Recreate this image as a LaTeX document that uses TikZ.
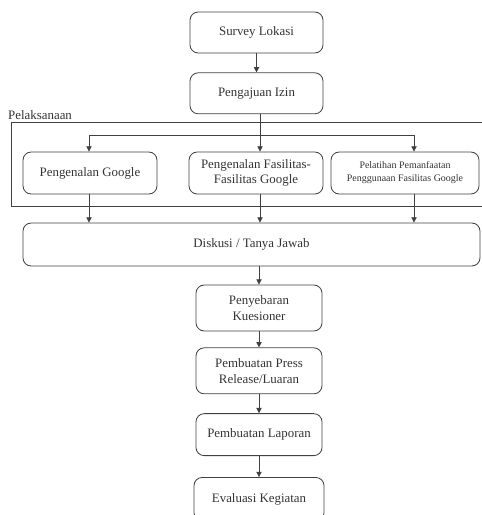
\documentclass[tikz,border=0pt]{standalone}
\usepackage{fontspec}
\setmainfont{Liberation Serif}
\usepackage{xcolor}
\colorlet{LINECOLOR}{black!75}
\colorlet{TEXTCOLOR}{black!80}
\usetikzlibrary{arrows.meta,positioning,calc}
\tikzset{
  step-style/.style = {
    rectangle, rounded corners=7pt, draw=LINECOLOR, line width=0.7pt,
    text=TEXTCOLOR, align=center, inner sep=2pt,
    font=\fontsize{11}{13.5}\selectfont,
    minimum width=3.99cm,
    minimum height=#1
  },
  step-style/.default = 1.23cm,
  small-style/.style = {
    font=\fontsize{8.5}{11}\selectfont
  },
  frame-style/.style = {
    draw=LINECOLOR, line width=0.7pt
  },
  label-style/.style = {
    text=TEXTCOLOR, inner sep=0pt, anchor=south west,
    font=\fontsize{11}{13}\selectfont
  },
  every edge/.style = {draw=LINECOLOR, line width=0.7pt, -{Triangle[length=4.5pt,width=4.5pt]}}
}

\begin{document}
\begin{tikzpicture}[x=0.03cm,y=-0.03cm]
    \useasboundingbox (0,0) rectangle (481,515);

    %%% preparation
    \node[step-style] (survey) at (256.5,32.5) {Survey Lokasi};
    \node[step-style,below=0.57cm of survey] (izin) {Pengajuan Izin};

    %%% pelaksanaan
    \draw[frame-style] (11,122) rectangle (484,206);
    \node[label-style] (pelaksanaan) at (8,119.5) {Pelaksanaan};
    \node[step-style=1.26cm,minimum width=4.02cm] (google) at (90,173) {Pengenalan Google};
    \node[step-style=1.26cm,minimum width=4.02cm] (fasilitas) at (256,173) {Pengenalan Fasilitas-\\Fasilitas Google};
    \node[step-style=1.26cm,minimum width=4.44cm,small-style] (pelatihan) at (405,173) {Pelatihan Pemanfaatan\\Penggunaan Fasilitas Google};

    %%% diskusi
    \node[step-style=1.29cm,minimum width=13.71cm] (diskusi) at (251.5,244.5) {Diskusi / Tanya Jawab};

    %%% lower column
    \node[step-style=1.38cm,minimum width=3.78cm] (kuesioner) at (259,308) {Penyebaran\\Kuesioner};
    \node[step-style=1.38cm,minimum width=3.78cm,below=0.48cm of kuesioner] (press) {Pembuatan Press\\Release/Luaran};
    \node[step-style=1.26cm,minimum width=3.78cm,below=0.57cm of press] (laporan) {Pembuatan Laporan};
    \node[step-style=1.3cm,minimum width=3.9cm,below=0.63cm of laporan] (evaluasi) {Evaluasi Kegiatan};

    %%% branch points
    \coordinate (bGoogle) at (89,135);
    \coordinate (bFasilitas) at (260,135);
    \coordinate (bPelatihan) at (414,135);

    %%% arrows
    \path[->] (survey) edge (izin);
    \path[->] (izin.south -| bFasilitas) edge (bFasilitas |- fasilitas.north);
    \draw[frame-style] (bGoogle) -- (bPelatihan);
    \path[->] (bGoogle) edge (bGoogle |- google.north);
    \path[->] (bPelatihan) edge (bPelatihan |- pelatihan.north);
    \path[->] (google.south -| bGoogle) edge (bGoogle |- diskusi.north);
    \path[->] (fasilitas.south -| bFasilitas) edge (bFasilitas |- diskusi.north);
    \path[->] (pelatihan.south -| bPelatihan) edge (bPelatihan |- diskusi.north);
    \path[->] (diskusi.south -| kuesioner.north) edge (kuesioner.north);
    \path[->] (kuesioner) edge (press);
    \path[->] (press) edge (laporan);
    \path[->] (laporan) edge (evaluasi);
\end{tikzpicture}
\end{document}
